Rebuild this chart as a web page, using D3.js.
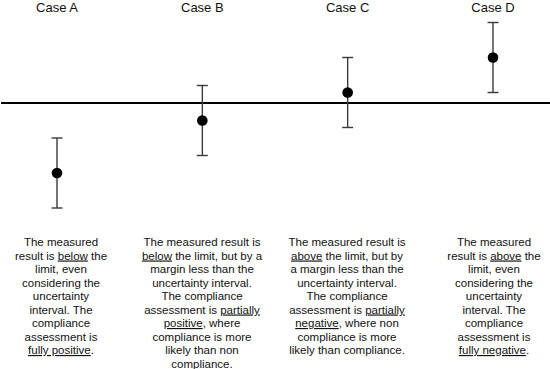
<!DOCTYPE html>
<html>
<head>
<meta charset="utf-8">
<script src="https://cdn.jsdelivr.net/npm/d3@7"></script>
<style>
  html, body { margin: 0; padding: 0; background: #fff; }
  svg { display: block; }
  .u { text-decoration: underline; }
</style>
</head>
<body>
<svg id="chart" width="550" height="369"></svg>
<script>
// ---- data ----
const cases = ["Case A", "Case B", "Case C", "Case D"];
const measured = [-2.0, -0.5, 0.3, 1.3];   // relative to limit (0)
const uncertainty = [1.0, 1.0, 1.0, 1.0];
const limitValue = 0;

// descriptions: each line is a list of [text, underlined]
const descriptions = [
  [
    [["The measured", false]],
    [["result is ", false], ["below", true], [" the", false]],
    [["limit, even", false]],
    [["considering the", false]],
    [["uncertainty", false]],
    [["interval. The", false]],
    [["compliance", false]],
    [["assessment is", false]],
    [["fully positive", true], [".", false]]
  ],
  [
    [["The measured result is", false]],
    [["below", true], [" the limit, but by a", false]],
    [["margin less than the", false]],
    [["uncertainty interval.", false]],
    [["The compliance", false]],
    [["assessment is ", false], ["partially", true]],
    [["positive", true], [", where", false]],
    [["compliance is more", false]],
    [["likely than non", false]],
    [["compliance.", false]]
  ],
  [
    [["The measured result is", false]],
    [["above", true], [" the limit, but by", false]],
    [["a margin less than the", false]],
    [["uncertainty interval.", false]],
    [["The compliance", false]],
    [["assessment is ", false], ["partially", true]],
    [["negative", true], [", where non", false]],
    [["compliance is more", false]],
    [["likely than compliance.", false]]
  ],
  [
    [["The measured", false]],
    [["result is ", false], ["above", true], [" the", false]],
    [["limit, even", false]],
    [["considering the", false]],
    [["uncertainty", false]],
    [["interval. The", false]],
    [["compliance", false]],
    [["assessment is", false]],
    [["fully negative", true], [".", false]]
  ]
];
const textCenters = [61, 202, 347, 494];

// ---- drawing ----
const svg = d3.select("#chart");
const font = "'Liberation Sans', Arial, sans-serif";

const x = d3.scalePoint().domain(cases).range([57, 493]);
const y = d3.scaleLinear().domain([-2, 2]).range([173, 33]);

// limit line
svg.append("line")
  .attr("x1", 1).attr("x2", 550)
  .attr("y1", y(limitValue)).attr("y2", y(limitValue))
  .attr("stroke", "#000").attr("stroke-width", 1.8);

const data = cases.map((c, i) => ({ c, v: measured[i], u: uncertainty[i] }));

const g = svg.selectAll("g.case").data(data).join("g").attr("class", "case");

// error bars
g.append("line")
  .attr("x1", d => x(d.c)).attr("x2", d => x(d.c))
  .attr("y1", d => y(d.v + d.u)).attr("y2", d => y(d.v - d.u))
  .attr("stroke", "#3a3a3a").attr("stroke-width", 1.4);
[1, -1].forEach(s => {
  g.append("line")
    .attr("x1", d => x(d.c) - 5.5).attr("x2", d => x(d.c) + 5.5)
    .attr("y1", d => y(d.v + s * d.u)).attr("y2", d => y(d.v + s * d.u))
    .attr("stroke", "#3a3a3a").attr("stroke-width", 1.4);
});
// points
g.append("circle")
  .attr("cx", d => x(d.c)).attr("cy", d => y(d.v))
  .attr("r", 5.3).attr("fill", "#000");

// titles
g.append("text")
  .attr("x", d => x(d.c)).attr("y", 12)
  .attr("text-anchor", "middle")
  .attr("font-family", font).attr("font-size", "13px")
  .attr("fill", "#111")
  .text(d => d.c);

// descriptions
descriptions.forEach((lines, i) => {
  const t = svg.append("text")
    .attr("text-anchor", "middle")
    .attr("font-family", font).attr("font-size", "11.5px")
    .attr("fill", "#111");
  lines.forEach((segs, li) => {
    const line = t.append("tspan")
      .attr("x", textCenters[i])
      .attr("y", 246 + li * 13.5);
    segs.forEach(([s, u]) => {
      line.append("tspan").attr("class", u ? "u" : null).text(s);
    });
  });
});
</script>
</body>
</html>
